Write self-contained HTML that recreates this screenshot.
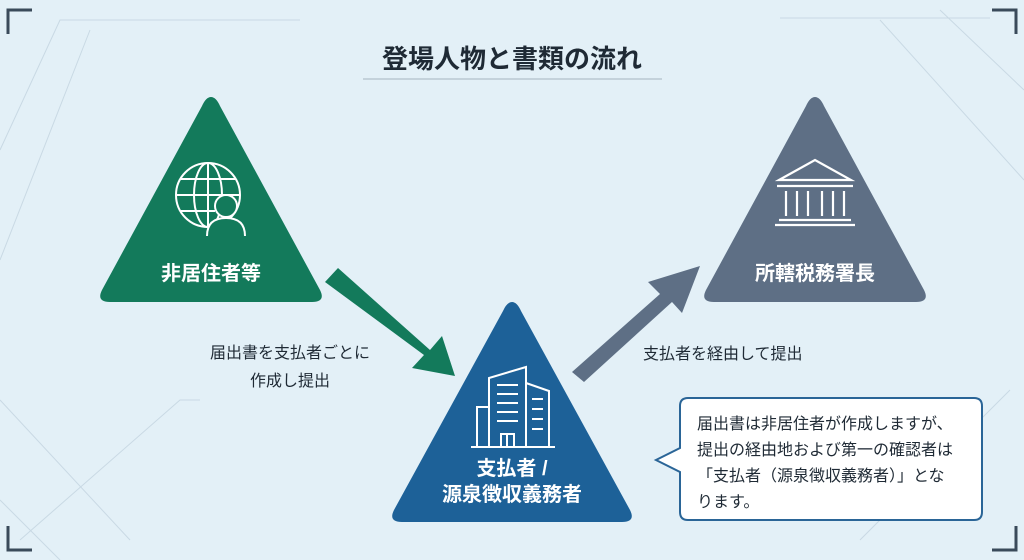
<!DOCTYPE html>
<html><head><meta charset="utf-8"><style>
body{margin:0;width:1024px;height:560px;overflow:hidden;background:#e3f0f7;font-family:"Liberation Sans","Noto Sans CJK JP",sans-serif;}
.t{position:absolute;white-space:nowrap;}
</style></head><body>
<svg width="1024" height="560" style="position:absolute;left:0;top:0">
<g stroke="#c9d9e4" stroke-width="1" fill="none">
<path d="M0 150 L60 20 L300 20"/><path d="M0 260 L90 30"/><path d="M880 20 L1024 180"/><path d="M940 10 L1024 90"/><path d="M0 400 L130 540"/><path d="M20 540 L180 400 L200 400"/><path d="M860 540 L1010 390"/><path d="M780 18 L990 18"/><path d="M0 500 L60 560"/>
</g>
<g stroke="#3a4a5a" stroke-width="3" fill="none">
<path d="M8 34 V10 H32"/><path d="M992 10 H1016 V34"/><path d="M8 526 V550 H32"/><path d="M1016 526 V550 H992"/>
</g>
<line x1="363" y1="79" x2="662" y2="79" stroke="#b9c8d2" stroke-width="1.5"/>
<path d="M211 97 Q216 97 220 106 L320 290 Q326 302 312 302 L110 302 Q96 302 102 290 L202 106 Q206 97 211 97Z" fill="#137a5b"/>
<path d="M815 97 Q820 97 824 106 L924 290 Q930 302 916 302 L714 302 Q700 302 706 290 L806 106 Q810 97 815 97Z" fill="#5e6f85"/>
<path d="M512 302 Q517 302 521 311 L630 510 Q636 522 622 522 L402 522 Q388 522 394 510 L503 311 Q507 302 512 302Z" fill="#1d6198"/>
<path d="M325 282 L338 268 L430 350 L442 336 L455 376 L412 368 L424 355 Z" fill="#137a5b"/>
<path d="M572 372 L660 294 L648 282 L700 266 L682 313 L672 302 L584 382 Z" fill="#5e6f85"/>
<g stroke="#fff" stroke-width="2" fill="none">
<circle cx="208" cy="195" r="32"/><ellipse cx="208" cy="195" rx="14" ry="32"/><line x1="176" y1="195" x2="240" y2="195"/><line x1="208" y1="163" x2="208" y2="227"/><path d="M181 179 H235 M181 211 H215"/>
<circle cx="226" cy="206" r="11" fill="#137a5b"/><path d="M207 236 Q207 218 226 218 Q245 218 245 236" fill="#137a5b"/>
</g>
<g stroke="#fff" stroke-width="2.2" fill="none">
<path d="M779 180 L815 160 L851 180 Z"/><line x1="777" y1="186" x2="853" y2="186"/>
<path d="M786 191 V216 M797 191 V216 M808 191 V216 M822 191 V216 M833 191 V216 M844 191 V216"/>
<line x1="779" y1="220" x2="851" y2="220"/><line x1="775" y1="225" x2="855" y2="225"/>
</g>
<g stroke="#fff" stroke-width="2" fill="none">
<path d="M489 446 V378 L526 367 V446"/><path d="M526 383 L549 391 V446"/><path d="M489 407 H477 V446"/>
<path d="M497 385 H518 M497 394 H518 M497 403 H518 M497 412 H518 M497 421 H518 M532 399 H543 M532 409 H543 M532 419 H543 M532 429 H543"/>
<path d="M501 446 V434 H514 V446 M507 434 V446"/><line x1="471" y1="447" x2="555" y2="447"/>
</g>
<path d="M688 398 H974 Q982 398 982 406 V512 Q982 520 974 520 H688 Q680 520 680 512 V472 L656 460 L680 448 V406 Q680 398 688 398Z" fill="#fff" stroke="#2a6597" stroke-width="2"/>
</svg>
<div class="t" style="left:0;width:1024px;text-align:center;top:39px;font-size:26px;font-weight:bold;color:#1f2a35">登場人物と書類の流れ</div>
<div class="t" style="left:111px;width:200px;text-align:center;top:257px;font-size:20px;font-weight:bold;color:#fff">非居住者等</div>
<div class="t" style="left:715px;width:200px;text-align:center;top:257px;font-size:20px;font-weight:bold;color:#fff">所轄税務署長</div>
<div class="t" style="left:412px;width:200px;text-align:center;top:456px;font-size:20px;font-weight:bold;color:#fff;line-height:26px">支払者 /<br>源泉徴収義務者</div>
<div class="t" style="left:185px;width:210px;text-align:center;top:340px;font-size:16px;color:#1f2a35;line-height:28px">届出書を支払者ごとに<br>作成し提出</div>
<div class="t" style="left:643px;top:340px;font-size:16px;color:#1f2a35">支払者を経由して提出</div>
<div class="t" style="left:697px;top:412px;font-size:16px;color:#1f2a35;line-height:26px">届出書は非居住者が作成しますが、<br>提出の経由地および第一の確認者は<br>「支払者（源泉徴収義務者）」とな<br>ります。</div>
</body></html>
